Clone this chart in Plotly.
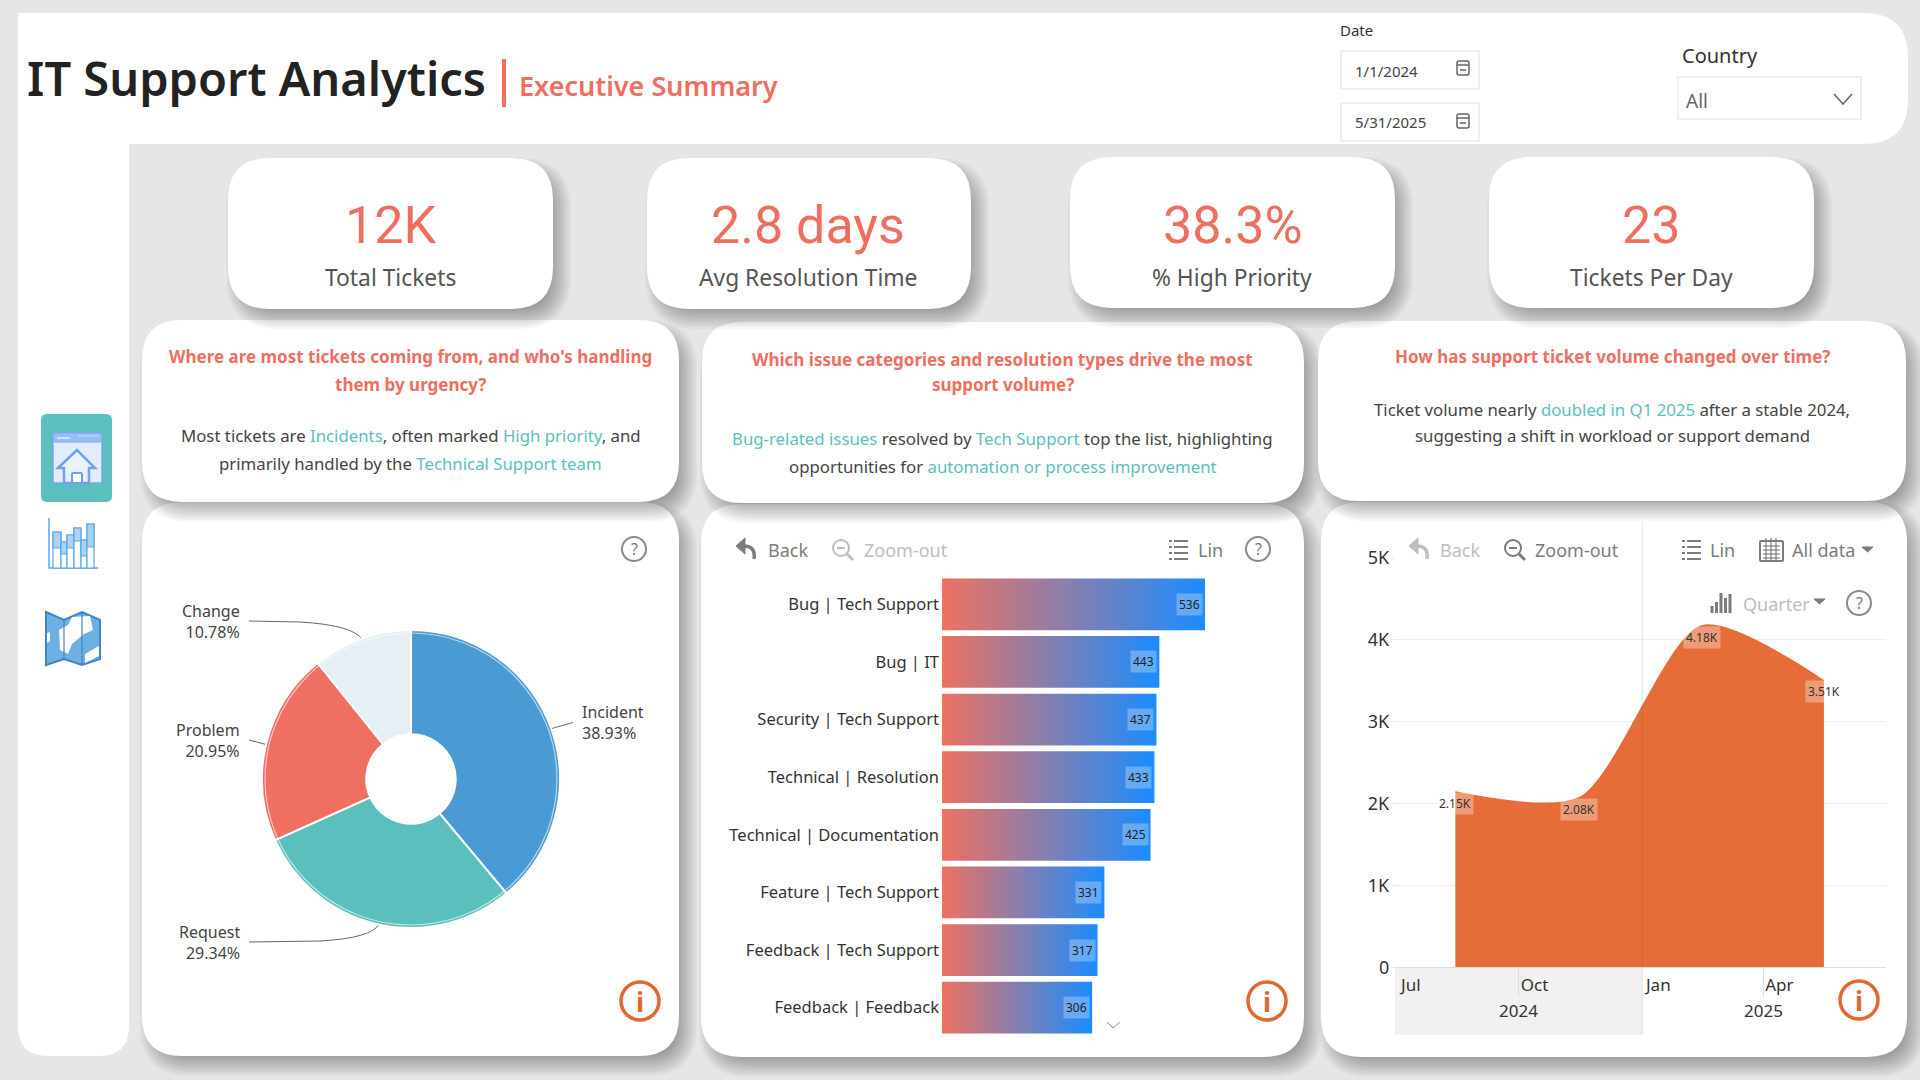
import plotly.graph_objects as go

W, H = 1920, 1080
FONT = "Noto Sans"
KPI_FONT = "Roboto"
CORAL = "#ee6f5f"
TEAL = "#5bbfbd"
ORANGE = "#e2672f"
GREY_TXT = "#7c7c7c"
GREY_OFF = "#bdbdbd"

# pie
ISSUE_TYPES = ["Incident", "Request", "Problem", "Change"]
ISSUE_SHARE = [38.93, 29.34, 20.95, 10.78]
ISSUE_COLORS = ["#4a9ad4", "#5bbfbd", "#ef6f60", "#e6f0f4"]

# bars
BAR_LABELS = ["Bug | Tech Support", "Bug | IT", "Security | Tech Support", "Technical | Resolution",
              "Technical | Documentation", "Feature | Tech Support", "Feedback | Tech Support", "Feedback | Feedback"]
BAR_VALUES = [536, 443, 437, 433, 425, 331, 317, 306]

# area
QUARTER_MID = ["2024-08-15", "2024-11-15", "2025-02-14", "2025-05-16"]
QUARTER_TICKETS = [2150, 2080, 4180, 3510]
QUARTER_TEXT = ["2.15K", "2.08K", "4.18K", "3.51K"]
X_TICKS = ["2024-07-01", "2024-10-01", "2025-01-01", "2025-04-01"]
X_TICK_TEXT = ["Jul", "Oct", "Jan", "Apr"]
Y_TICKS = [0, 1000, 2000, 3000, 4000, 5000]
Y_TICK_TEXT = ["0", "1K", "2K", "3K", "4K", "5K"]

# kpi cards
KPI_VALUES = ["12K", "2.8 days", "38.3%", "23"]
KPI_NAMES = ["Total Tickets", "Avg Resolution Time", "% High Priority", "Tickets Per Day"]


def X(x):
    return x / W


def Y(y):
    return 1 - y / H


def rounded(x0, y0, x1, y1, tl, tr=None, br=None, bl=None):
    """SVG path (paper coords) for a box with its own radius on each corner."""
    tr = tl if tr is None else tr
    br = tl if br is None else br
    bl = tl if bl is None else bl
    def p(x, y):
        return f"{X(x):.5f},{Y(y):.5f}"
    return (f"M{p(x0 + tl, y0)} L{p(x1 - tr, y0)} Q{p(x1, y0)} {p(x1, y0 + tr)} "
            f"L{p(x1, y1 - br)} Q{p(x1, y1)} {p(x1 - br, y1)} L{p(x0 + bl, y1)} "
            f"Q{p(x0, y1)} {p(x0, y1 - bl)} L{p(x0, y0 + tl)} Q{p(x0, y0)} {p(x0 + tl, y0)} Z")


shapes = []
notes = []


def add_path(d, fill=None, line=None, width=0, layer="below"):
    shapes.append(dict(type="path", xref="paper", yref="paper", path=d, layer=layer,
                       fillcolor=fill if fill else "rgba(0,0,0,0)",
                       line=dict(color=line if line else "rgba(0,0,0,0)", width=width)))


def poly(pts, close=False, fill=None, line=None, width=1.5, layer="below"):
    d = "M" + " L".join(f"{X(x):.5f},{Y(y):.5f}" for x, y in pts) + (" Z" if close else "")
    add_path(d, fill, line, width, layer)


def circle(cx, cy, r, line=None, width=2, fill=None, layer="below"):
    shapes.append(dict(type="circle", xref="paper", yref="paper", layer=layer,
                       x0=X(cx - r), x1=X(cx + r), y0=Y(cy + r), y1=Y(cy - r),
                       fillcolor=fill if fill else "rgba(0,0,0,0)",
                       line=dict(color=line if line else "rgba(0,0,0,0)", width=width)))


def note(text, x, y, size, color="#333333", anchor="center", weight=None, family=FONT):
    font = dict(family=family, size=size, color=color)
    if weight:
        font["weight"] = weight
    notes.append(dict(text=text, x=X(x), y=Y(y), xref="paper", yref="paper", showarrow=False,
                      xanchor=anchor, yanchor="middle", align=anchor, font=font))


def card(x0, y0, x1, y1, r=40):
    # stacked translucent boxes stand in for a blurred drop shadow
    for k in range(12):
        grow = 10 - 2 * k
        add_path(rounded(x0 + 8 - grow, y0 + 10 - grow, x1 + 8 + grow, y1 + 10 + grow, max(r + grow, 4)),
                 fill="rgba(0,0,0,0.032)")
    add_path(rounded(x0, y0, x1, y1, r), fill="#ffffff")


# page frame
add_path(rounded(18, 13, 1908, 144, 0, 45, 45, 0), fill="#ffffff")
add_path(rounded(18, 100, 129, 1056, 0, 0, 30, 30), fill="#ffffff")

# charts sit under the text cards, whose shadow falls on them
card(142, 502, 679, 1056)
card(701, 504, 1304, 1057)
card(1321, 502, 1907, 1057)
card(142, 320, 679, 502)
card(702, 322, 1304, 503)
card(1318, 321, 1906, 501)
for x0, x1, y0, y1 in [(228, 553, 158, 309), (647, 971, 158, 309), (1070, 1395, 157, 308), (1489, 1814, 157, 308)]:
    card(x0, y0, x1, y1, 42)

# header
note("IT Support Analytics", 25, 78, 47, "#222222", "left", 600)
poly([(504, 59), (504, 107)], line=CORAL, width=4)
note("Executive Summary", 517, 86, 27, CORAL, "left", 600)
note("Date", 1338, 30, 15, "#333333", "left")
note("Country", 1680, 55, 20, "#333333", "left")
add_path(rounded(1341, 51, 1479, 89, 0), fill="#ffffff", line="#eeeeee", width=2)
add_path(rounded(1341, 103, 1479, 141, 0), fill="#ffffff", line="#eeeeee", width=2)
add_path(rounded(1678, 77, 1861, 119, 0), fill="#ffffff", line="#eeeeee", width=2)
note("1/1/2024", 1353, 71, 15, "#444444", "left")
note("5/31/2025", 1353, 122, 15, "#444444", "left")
note("All", 1684, 101, 19, "#666666", "left")
poly([(1834, 94), (1843, 104), (1852, 94)], line="#666666", width=1.5)
for cy in (68, 121):
    add_path(rounded(1457, cy - 7, 1469, cy + 7, 2), line="#666666", width=1.5)
    poly([(1457, cy - 3), (1469, cy - 3)], line="#666666", width=1.5)
    poly([(1460, cy + 2), (1466, cy + 2)], line="#888888", width=2)

# kpis
for cx, value, name in zip([390.5, 808, 1232, 1651], KPI_VALUES, KPI_NAMES):
    note(value, cx, 225, 52, CORAL, family=KPI_FONT)
    note(name, cx, 277, 22.8, "#555555")

# text cards
def tint(s):
    return f'<span style="color:{TEAL}">{s}</span>'


HEADINGS = [
    (410.5, [357, 384], ["Where are most tickets coming from, and who's handling", "them by urgency?"]),
    (1003, [359, 385], ["Which issue categories and resolution types drive the most", "support volume?"]),
    (1612, [357], ["How has support ticket volume changed over time?"]),
]
BODIES = [
    (410.5, [436, 463], ["Most tickets are " + tint("Incidents") + ", often marked " + tint("High priority") + ", and",
                         "primarily handled by the " + tint("Technical Support team")]),
    (1003, [439, 467], [tint("Bug-related issues") + " resolved by " + tint("Tech Support") + " top the list, highlighting",
                        "opportunities for " + tint("automation or process improvement")]),
    (1612, [409, 436], ["Ticket volume nearly " + tint("doubled in Q1 2025") + " after a stable 2024,",
                        "suggesting a shift in workload or support demand"]),
]
for cx, ys, lines in HEADINGS:
    for y, line in zip(ys, lines):
        note(line, cx, y, 17, CORAL, weight=700)
for cx, ys, lines in BODIES:
    for y, line in zip(ys, lines):
        note(line, cx, y, 16.8, "#444444")


# sidebar icons
add_path(rounded(41, 414, 112, 502, 6), fill=TEAL)
add_path(rounded(53, 433, 102, 483, 2), fill="#e3ecfd", line="#7aa7f5", width=1.5)
add_path(rounded(53, 433, 102, 442, 2), fill="#9bbcf5", line="#7aa7f5", width=1)
poly([(57, 438), (70, 438)], line="#e3ecfd", width=1.5)
poly([(78, 436), (99, 436)], line="#c9dbfa", width=1)
poly([(58, 468), (77, 450), (95, 468), (89, 468), (89, 483), (64, 483), (64, 468)], True, "#e9f1fd", "#6fa0f5", 2.5)
add_path(rounded(72, 473, 82, 483, 1), fill="#ffffff", line="#6fa0f5", width=2)
poly([(49, 518), (49, 568), (98, 568)], line="#5aa8ea", width=1.5)
for bx, bw, top, mid in [(53, 8, 532, 548), (61, 6, 542, 554), (67, 7, 535, 548), (74, 7, 528, 541),
                         (81, 6, 540, 556), (87, 7, 524, 547)]:
    add_path(rounded(bx, top, bx + bw, 568, 0), fill="#ffffff", line="#5aa8ea", width=1.2)
    add_path(rounded(bx, top, bx + bw, mid, 0), fill="#a9d2f3", line="#5aa8ea", width=1.2)
poly([(46, 612), (64, 620), (82, 612), (100, 620), (100, 659), (82, 665), (64, 659), (46, 665)], True,
     "#6db0e4", "#3f86c2", 2)
poly([(59, 630), (68, 625), (72, 617), (90, 616), (93, 630), (84, 634), (72, 644), (68, 654), (60, 650)], True, "#ffffff")
poly([(85, 654), (99, 646), (99, 656), (85, 663)], True, "#ffffff")
poly([(47, 633), (50, 632), (50, 641), (47, 643)], True, "#ffffff")
poly([(64, 620), (64, 659)], line="#3f86c2", width=1.2)
poly([(82, 612), (82, 665)], line="#3f86c2", width=1.2)


# small toolbar glyphs
def qmark(cx, cy):
    circle(cx, cy, 12, line="#8a8a8a", width=2)
    note("?", cx, cy, 16, "#7a7a7a")


def info(cx, cy):
    circle(cx, cy, 19, line=ORANGE, width=3.5)
    note("i", cx, cy, 27, ORANGE, weight=700)


def back_icon(x, color):
    poly([(x + 9, 538), (x, 546), (x + 9, 554)], True, color, color, 1)
    add_path(f"M{X(x + 6):.5f},{Y(546):.5f} Q{X(x + 20):.5f},{Y(545):.5f} {X(x + 18):.5f},{Y(559):.5f}",
             line=color, width=3.5)


def zoom_icon(cx, color):
    circle(cx, 548, 8, line=color, width=2)
    poly([(cx - 4, 548), (cx + 4, 548)], line=color, width=2)
    poly([(cx + 6, 554), (cx + 12, 560)], line=color, width=3)


def list_icon(x, color):
    for y in (541, 547, 553, 559):
        poly([(x, y), (x + 3, y)], line=color, width=2)
        poly([(x + 5, y), (x + 19, y)], line=color, width=2)


def question_toolbar(x_back, x_back_txt, back_col, x_zoom, x_zoom_txt, zoom_col, x_list, x_lin):
    back_icon(x_back, back_col)
    note("Back", x_back_txt, 550, 18, back_col, "left")
    zoom_icon(x_zoom, zoom_col)
    note("Zoom-out", x_zoom_txt, 550, 18, zoom_col, "left")
    list_icon(x_list, GREY_TXT)
    note("Lin", x_lin, 550, 18, GREY_TXT, "left")


question_toolbar(736, 766, GREY_TXT, 841, 862, GREY_OFF, 1169, 1196)
question_toolbar(1409, 1438, GREY_OFF, 1513, 1533, GREY_TXT, 1682, 1708)
qmark(634, 549)
qmark(1258, 549)
qmark(1859, 603)
info(640, 1001)
info(1267, 1001)
info(1859, 1000)

add_path(rounded(1760, 541, 1783, 561, 1), line=GREY_TXT, width=2)
for gy in (546, 550, 554, 558):
    poly([(1763, gy), (1780, gy)], line=GREY_TXT, width=1.2)
for gx in (1766, 1771, 1776):
    poly([(gx, 538), (gx, 561)], line=GREY_TXT, width=1.2)
note("All data", 1790, 550, 18, GREY_TXT, "left")
poly([(1862, 547), (1873, 547), (1867.5, 552)], True, GREY_TXT, GREY_TXT, 1)
for bx, top in [(1712, 606), (1716.5, 602), (1721, 593), (1725.5, 598), (1730, 594)]:
    poly([(bx, top), (bx, 613)], line=GREY_TXT, width=3)
note("Quarter", 1741, 604, 18, GREY_OFF, "left")
poly([(1814, 599), (1825, 599), (1819.5, 604)], True, GREY_TXT, GREY_TXT, 1)

# pie labels and leaders
PIE_LABEL_SPOTS = [(580, 722, "left"), (242, 942, "right"), (242, 740, "right"), (242, 621, "right")]
for name, share, (lx, ly, anchor) in zip(ISSUE_TYPES, ISSUE_SHARE, PIE_LABEL_SPOTS):
    note(f"{name}<br>{share:.2f}%", lx, ly, 16, "#444444", anchor)
leader = "#666666"
poly([(550, 729), (573, 722.5)], line=leader, width=1)
poly([(249, 740), (268, 745)], line=leader, width=1)
add_path(f"M{X(249):.5f},{Y(621):.5f} L{X(300):.5f},{Y(622):.5f} Q{X(352):.5f},{Y(625):.5f} {X(362):.5f},{Y(639):.5f}",
         line=leader, width=1)
add_path(f"M{X(249):.5f},{Y(942):.5f} L{X(320):.5f},{Y(941):.5f} Q{X(372):.5f},{Y(938):.5f} {X(379):.5f},{Y(924):.5f}",
         line=leader, width=1)
circle(411, 779, 146, line="rgba(255,255,255,0.6)", width=1.2, layer="above")

# chevron under the bars
poly([(1107, 1022), (1113, 1028), (1120, 1022)], line="#888888", width=1)

# axis band of the area chart
add_path(rounded(1395, 967, 1642, 1035, 0), fill="#f1f1f1")
for tx in (X_TICKS[1], X_TICKS[3]):
    shapes.append(dict(type="line", xref="x2", yref="paper", x0=tx, x1=tx, y0=Y(967), y1=Y(997),
                       layer="below", line=dict(color="#dcdcdc", width=1)))
shapes.append(dict(type="line", xref="x2", yref="paper", x0=X_TICKS[2], x1=X_TICKS[2], y0=Y(522), y1=Y(1035),
                   layer="above", line=dict(color="rgba(90,90,90,0.16)", width=1)))
for year, tx in [("2024", "2024-10-01"), ("2025", "2025-04-01")]:
    notes.append(dict(text=year, x=tx, y=Y(1010), xref="x2", yref="paper", showarrow=False,
                      xanchor="center", yanchor="middle", font=dict(family=FONT, size=17, color="#333333")))

fig = go.Figure()

fig.add_trace(go.Pie(labels=ISSUE_TYPES, values=ISSUE_SHARE, sort=False, direction="clockwise", rotation=0,
                     hole=0.3, textinfo="none", showlegend=False,
                     marker=dict(colors=ISSUE_COLORS, line=dict(color="#ffffff", width=2)),
                     domain=dict(x=[X(262), X(560)], y=[Y(928), Y(630)])))

HALF = 0.45
for i, (name, value) in enumerate(zip(BAR_LABELS, BAR_VALUES)):
    fig.add_trace(go.Scatter(x=[0, value, value, 0, 0], y=[i - HALF, i - HALF, i + HALF, i + HALF, i - HALF],
                             mode="lines", name=name, showlegend=False, fill="toself", line=dict(width=0),
                             fillgradient=dict(type="horizontal", colorscale=[[0, "#ee7161"], [1, "#1a8cff"]]),
                             xaxis="x", yaxis="y"))
    notes.append(dict(text=str(value), x=value, y=i, xref="x", yref="y", showarrow=False, xanchor="right",
                      yanchor="middle", xshift=-2, borderpad=2, bgcolor="rgba(255,255,255,0.28)",
                      font=dict(family=FONT, size=12, color="#222222")))

fig.add_trace(go.Scatter(x=QUARTER_MID, y=QUARTER_TICKETS, mode="lines", showlegend=False, fill="tozeroy",
                         line=dict(shape="spline", smoothing=0.75, width=0, color="#e5672f"),
                         fillcolor="rgba(229,103,47,0.96)", xaxis="x2", yaxis="y2"))
for when, value, label in zip(QUARTER_MID, QUARTER_TICKETS, QUARTER_TEXT):
    notes.append(dict(text=label, x=when, y=value, xref="x2", yref="y2", showarrow=False, yanchor="middle",
                      xanchor="center", yshift=-12, borderpad=2, bgcolor="rgba(255,255,255,0.32)",
                      font=dict(family=FONT, size=12, color="#333333")))

fig.update_layout(
    width=W, height=H, margin=dict(l=0, r=0, t=0, b=0), paper_bgcolor="#e6e6e6", plot_bgcolor="rgba(0,0,0,0)",
    font=dict(family=FONT), shapes=shapes, annotations=notes, hovermode=False,
    xaxis=dict(domain=[X(942), X(1236.4)], range=[0, 600], visible=False, fixedrange=True, automargin=False),
    yaxis=dict(domain=[Y(1036.5), Y(575.5)], range=[7.5, -0.5], tickmode="array", automargin=False,
               tickvals=list(range(len(BAR_LABELS))), ticktext=BAR_LABELS, ticks="", ticklabelstandoff=2,
               showgrid=False, zeroline=False, showline=False,
               tickfont=dict(family=FONT, size=16.5, color="#333333"), anchor="x"),
    xaxis2=dict(domain=[X(1394.8), X(1885.8)], type="date", range=["2024-07-01", "2025-07-01"], tickmode="array",
                tickvals=X_TICKS, ticktext=X_TICK_TEXT, ticklabelshift=16, ticks="outside", ticklen=2, automargin=False,
                tickcolor="rgba(0,0,0,0)", showgrid=False, showline=True, linecolor="#dddddd", zeroline=False,
                tickfont=dict(family=FONT, size=17, color="#333333"), anchor="y2"),
    yaxis2=dict(domain=[Y(967.3), Y(558)], range=[0, 5000], tickmode="array", tickvals=Y_TICKS, automargin=False,
                ticktext=Y_TICK_TEXT, ticks="outside", ticklen=3, ticklabelstandoff=-2, tickcolor="#e2e2e2",
                gridcolor="#efefef", zeroline=False, showline=False,
                tickfont=dict(family=FONT, size=18, color="#333333"), anchor="x2"),
)

# the page's default body margin would push the 1920x1080 figure off the window
fig.write_html("out.html", config={"displayModeBar": False}, post_script="document.body.style.margin = '0';")
